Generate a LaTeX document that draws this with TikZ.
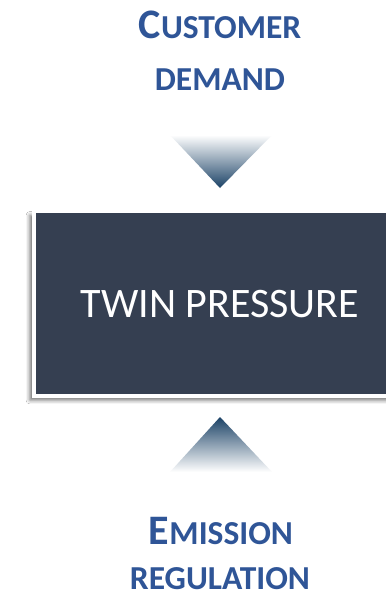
\documentclass[tikz,border=0pt]{standalone}
\usepackage{fontspec}
\setmainfont{Carlito}
\usetikzlibrary{shadows.blur}
\definecolor{txtblue}{HTML}{2F5597}
\definecolor{boxdark}{HTML}{353F51}
\definecolor{arrowblue}{HTML}{1B4266}
\tikzset{
  lbl/.style={anchor=base, text=txtblue, font=\bfseries, inner sep=0pt},
  mainbox/.style={rectangle, fill=boxdark, draw=white, line width=3.5pt,
    minimum width=372pt, minimum height=184.5pt, inner sep=0pt, outer sep=0pt,
    text=white, font=\fontsize{42}{50}\selectfont,
    blur shadow={shadow xshift=-4pt, shadow yshift=-4pt, shadow blur radius=4pt, shadow opacity=60}},
}
\newcommand{\bigsz}{\fontsize{42}{50}\selectfont}
\newcommand{\smsz}{\fontsize{33.5}{40}\selectfont}
\begin{document}
\begin{tikzpicture}[x=1pt,y=-1pt]
\useasboundingbox (0,0) rectangle (386,598);
\clip (0,0) rectangle (386,598);
\fill[white] (0,0) rectangle (386,598);
% labels
\node[lbl] (cust) at (220,38) {\bigsz C\smsz USTOMER};
\node[lbl] (dem) at (220,90) {\smsz DEMAND};
\node[lbl] (emis) at (221,544) {\bigsz E\smsz MISSION};
\node[lbl] (reg) at (220,589) {\smsz REGULATION};
% top triangle
\coordinate (t1) at (170,135);
\coordinate (t2) at (272,135);
\coordinate (t3) at (220,188);
\shade[top color=white, bottom color=arrowblue] (t1) -- (t2) -- (t3) -- cycle;
% main box
\node[mainbox] (tp) at (220,303.7) {TWIN PRESSURE};
% bottom triangle
\coordinate (b1) at (170,472);
\coordinate (b2) at (272,472);
\coordinate (b3) at (220,417);
\shade[top color=arrowblue, bottom color=white] (b1) -- (b2) -- (b3) -- cycle;
\end{tikzpicture}
\end{document}
